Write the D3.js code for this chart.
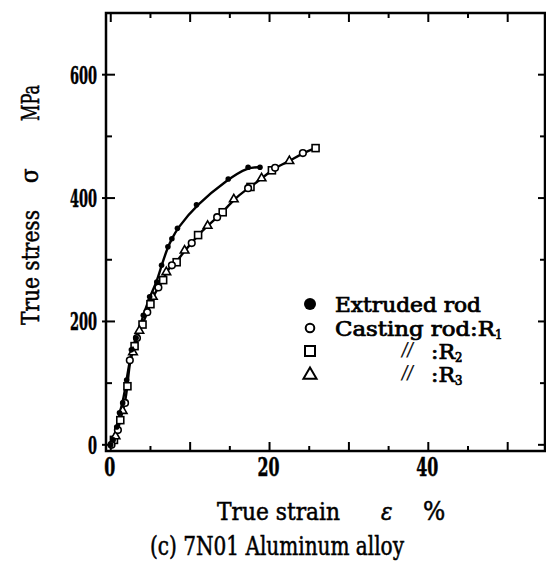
<html>
<head>
<meta charset="utf-8">
<script src="https://d3js.org/d3.v7.min.js"></script>
<style>
body{margin:0;background:#fff;}
text{font-family:"DejaVu Serif Condensed","DejaVu Serif",serif;font-stretch:condensed;fill:#000;stroke:#000;stroke-width:0.5px;}
</style>
</head>
<body>
<script>
// values
var extX = [0, 0.3, 0.75, 1.1, 1.5, 2.0, 2.6, 3.2, 4.1, 4.9, 5.8, 6.4, 7.2, 7.7, 8.4, 10.8, 14.8, 17.3, 18.8];
var extY = [0, 8, 29, 52, 68, 105, 154, 173, 210, 240, 264, 291, 321, 334, 351, 389, 431, 450, 450];

var r1X = [0.1, 0.9, 1.8, 2.4, 3.3, 4.6, 6.0, 7.7, 10.2, 13.4, 17.3, 20.7, 24.2];
var r1Y = [0, 24, 68, 137, 173, 215, 255, 291, 327, 369, 416, 449, 473];
var r2X = [0.4, 1.2, 2.1, 3.0, 4.0, 5.0, 6.6, 8.3, 11.0, 14.1, 17.6, 20.3, 25.8];
var r2Y = [8, 40, 95, 160, 195, 228, 267, 296, 340, 377, 418, 445, 481];
var r3X = [0.6, 1.5, 2.8, 3.6, 5.3, 7.0, 9.3, 12.2, 15.5, 19.0, 22.5];
var r3Y = [14, 55, 150, 185, 240, 280, 315, 355, 398, 432, 460];

var xMajor = [10, 20, 30, 40, 50];
var xMinor = [5, 15, 25, 35, 45];
var xLabels = [0, 20, 40];
var yMajor = [0, 200, 400, 600];
var yMinor = [100, 300, 500];

var w = 546, h = 563;
var L = 106, R = 545, T = 13, B = 451;

var x = d3.scaleLinear().domain([-0.6, 54.7]).range([L, R]);
var y = d3.scaleLinear().domain([-10, 700]).range([B, T]);

var svg = d3.select("body").append("svg").attr("width", w).attr("height", h);

function pts(xs, ys){ return xs.map(function(v,i){ return {x:v, y:ys[i]}; }); }
var ext = pts(extX, extY);
var r1 = pts(r1X, r1Y), r2 = pts(r2X, r2Y), r3 = pts(r3X, r3Y);
var cast = r1.concat(r2, r3).sort(function(a,b){ return a.x - b.x; });

// squeeze a text to a width only when it is wider than that
function fit(t, len){
  var n = t.node().getComputedTextLength();
  if (n > len) t.attr("textLength", len).attr("lengthAdjust", "spacingAndGlyphs");
  return t;
}
// set a text to exactly that width
function span(t, len){
  return t.attr("textLength", len).attr("lengthAdjust", "spacingAndGlyphs");
}

// frame
svg.append("rect").attr("x", L).attr("y", T).attr("width", R - L).attr("height", B - T)
  .attr("fill", "none").attr("stroke", "#000").attr("stroke-width", 2.5);

// ticks
var tk = svg.append("g").attr("stroke", "#000").attr("stroke-width", 2);
xMajor.concat([0]).forEach(function(v){
  tk.append("line").attr("x1", x(v)).attr("x2", x(v)).attr("y1", B).attr("y2", B - 9);
  tk.append("line").attr("x1", x(v)).attr("x2", x(v)).attr("y1", T).attr("y2", T + 9);
});
xMinor.forEach(function(v){
  tk.append("line").attr("x1", x(v)).attr("x2", x(v)).attr("y1", B).attr("y2", B - 5);
  tk.append("line").attr("x1", x(v)).attr("x2", x(v)).attr("y1", T).attr("y2", T + 5);
});
yMajor.forEach(function(v){
  tk.append("line").attr("x1", L - 4).attr("x2", L + 9).attr("y1", y(v)).attr("y2", y(v));
  tk.append("line").attr("x1", R).attr("x2", R - 7).attr("y1", y(v)).attr("y2", y(v));
});
yMinor.forEach(function(v){
  tk.append("line").attr("x1", L).attr("x2", L + 6).attr("y1", y(v)).attr("y2", y(v));
  tk.append("line").attr("x1", R).attr("x2", R - 5).attr("y1", y(v)).attr("y2", y(v));
});

// tick labels
yMajor.forEach(function(v){
  var s = String(v);
  fit(svg.append("text").attr("x", L - 9).attr("y", y(v) + 9).attr("text-anchor", "end")
    .attr("font-size", 24).attr("font-weight", "bold").text(s), 9 * s.length);
});
xLabels.forEach(function(v){
  var s = String(v);
  fit(svg.append("text").attr("x", x(v) - 1).attr("y", 476).attr("text-anchor", "middle")
    .attr("font-size", 26).attr("font-weight", "bold").text(s), 11 * s.length);
});

// curves
var line = d3.line().x(function(d){ return x(d.x); }).y(function(d){ return y(d.y); }).curve(d3.curveBasis);
svg.append("path").attr("d", line(ext)).attr("fill", "none").attr("stroke", "#000").attr("stroke-width", 2.4);
svg.append("path").attr("d", line(cast)).attr("fill", "none").attr("stroke", "#000").attr("stroke-width", 2.4);

// markers
svg.selectAll(".r2").data(r2).enter().append("rect")
  .attr("x", function(d){ return x(d.x) - 3.5; }).attr("y", function(d){ return y(d.y) - 3.5; })
  .attr("width", 7).attr("height", 7).attr("fill", "#fff").attr("stroke", "#000").attr("stroke-width", 1.6);
var tri = d3.symbol().type(d3.symbolTriangle).size(32);
svg.selectAll(".r3").data(r3).enter().append("path").attr("d", tri)
  .attr("transform", function(d){ return "translate(" + x(d.x) + "," + y(d.y) + ")"; })
  .attr("fill", "#fff").attr("stroke", "#000").attr("stroke-width", 1.6);
svg.selectAll(".r1").data(r1).enter().append("circle")
  .attr("cx", function(d){ return x(d.x); }).attr("cy", function(d){ return y(d.y); }).attr("r", 3.3)
  .attr("fill", "#fff").attr("stroke", "#000").attr("stroke-width", 1.6);
svg.selectAll(".ext").data(ext).enter().append("circle")
  .attr("cx", function(d){ return x(d.x); }).attr("cy", function(d){ return y(d.y); }).attr("r", 2.8)
  .attr("fill", "#000");

// legend
var lg = svg.append("g");
lg.append("circle").attr("cx", 310).attr("cy", 304).attr("r", 6).attr("fill", "#000");
lg.append("circle").attr("cx", 310).attr("cy", 328).attr("r", 4.3).attr("fill", "#fff").attr("stroke", "#000").attr("stroke-width", 2);
lg.append("rect").attr("x", 305).attr("y", 346).attr("width", 10).attr("height", 10).attr("fill", "#fff").attr("stroke", "#000").attr("stroke-width", 2);
lg.append("path").attr("d", d3.symbol().type(d3.symbolTriangle).size(75)).attr("transform", "translate(310,375)")
  .attr("fill", "#fff").attr("stroke", "#000").attr("stroke-width", 2);

function label(tx, ty, str, len, size){
  return fit(svg.append("text").attr("x", tx).attr("y", ty).attr("font-size", size || 20.5).text(str), len);
}
span(svg.append("text").attr("x", 335).attr("y", 312).attr("font-size", 20.5)
  .style("stroke-width", "0.7px").text("Extruded rod"), 146);
var c1 = svg.append("text").attr("x", 335).attr("y", 336).attr("font-size", 20.5).style("stroke-width", "0.7px");
span(c1.append("tspan").text("Casting rod:R"), 160);
c1.append("tspan").attr("font-size", 13).attr("dy", 3).text("1");
[[":R", "2", 359], [":R", "3", 382]].forEach(function(r){
  svg.append("text").attr("x", 402).attr("y", r[2] - 3).attr("font-size", 18)
    .attr("font-style", "italic").style("stroke-width", "0.2px").text("//");
  var t = svg.append("text").attr("x", 431).attr("y", r[2]).attr("font-size", 20.5).style("stroke-width", "0.7px");
  span(t.append("tspan").text(r[0]), 24);
  t.append("tspan").attr("font-size", 13).attr("dy", 3).text(r[1]);
});

// axis titles
label(217, 520, "True strain", 123, 25);
svg.append("text").attr("x", 381).attr("y", 520).attr("font-size", 24)
  .attr("font-style", "italic").text("ε");
svg.append("text").attr("x", 423).attr("y", 520).attr("font-size", 26).attr("font-family", "DejaVu Sans").text("%");
label(150, 555, "(c) 7N01 Aluminum alloy", 254, 26);

var yt = svg.append("g").attr("transform", "translate(39,0) rotate(-90)");
fit(yt.append("text").attr("x", -325).attr("y", 0).attr("font-size", 25).text("True stress"), 115);
yt.append("text").attr("x", -183).attr("y", -1).attr("font-size", 24).text("σ");
fit(yt.append("text").attr("x", -121).attr("y", 0).attr("font-size", 25).text("MPa"), 36);
</script>
</body>
</html>
